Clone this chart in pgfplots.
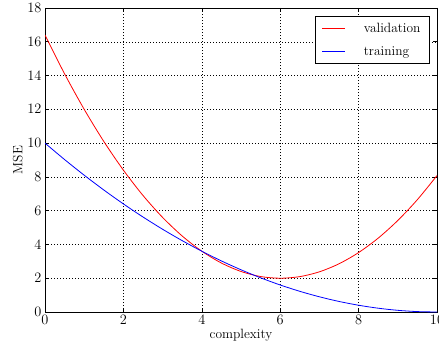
\documentclass[border=0pt]{standalone}
\usepackage{pgfplots}
\pgfplotsset{compat=1.18}

\begin{document}
\begin{tikzpicture}[x=1bp,y=1bp]
\begin{axis}[
  at={(0,0)}, anchor=south west,
  width=392bp, height=304bp, scale only axis,
  xmin=0, xmax=10, ymin=0, ymax=18,
  xtick={0,2,...,10}, ytick={0,2,...,18},
  tick align=inside, tick pos=both,
  major tick length=4bp,
  tick style={black, line width=0.6pt},
  axis line style={black, line width=0.8pt},
  grid=major,
  grid style={black, line width=0.5pt, dash pattern=on 0.8bp off 2.2bp},
  xlabel={complexity}, ylabel={MSE},
  ticklabel style={font=\fontsize{13.5}{16}\selectfont},
  label style={font=\fontsize{13.5}{16}\selectfont},
  xlabel style={yshift=2bp},
  ylabel style={yshift=-2bp},
  legend style={
    at={(0.982,0.974)}, anchor=north east,
    font=\fontsize{13.5}{16}\selectfont,
    draw=black, line width=0.8pt,
    inner xsep=7bp, inner ysep=5bp,
    row sep=8.5bp, column sep=16bp,
    cells={anchor=west},
  },
]
\addplot[red, line width=0.8pt, smooth,
  legend image code/.code={\draw[red, line width=0.8pt] (0bp,0bp) -- (23bp,0bp);}]
  coordinates {
  (0,16.4) (0.5,14.1) (1,12.0) (1.5,10.1) (2,8.4) (2.5,6.9) (3,5.6)
  (3.5,4.5) (4,3.6) (4.5,2.9) (5,2.4) (5.5,2.1) (6,2.0) (6.5,2.095)
  (7,2.38) (7.5,2.855) (8,3.52) (8.5,4.375) (9,5.42) (9.5,6.655) (10,8.08)
};
\addlegendentry{validation}
\addplot[blue, line width=0.8pt, smooth,
  legend image code/.code={\draw[blue, line width=0.8pt] (0bp,0bp) -- (23bp,0bp);}]
  coordinates {
  (0,10) (0.5,9.025) (1,8.1) (1.5,7.225) (2,6.4) (2.5,5.625) (3,4.9)
  (3.5,4.225) (4,3.6) (4.5,3.025) (5,2.5) (5.5,2.025) (6,1.6) (6.5,1.225)
  (7,0.9) (7.5,0.625) (8,0.4) (8.5,0.225) (9,0.1) (9.5,0.025) (10,0)
};
\addlegendentry{training}
\end{axis}
\pgfresetboundingbox
\path[use as bounding box] (-45,-38) rectangle (394,312);
\end{tikzpicture}
\end{document}
